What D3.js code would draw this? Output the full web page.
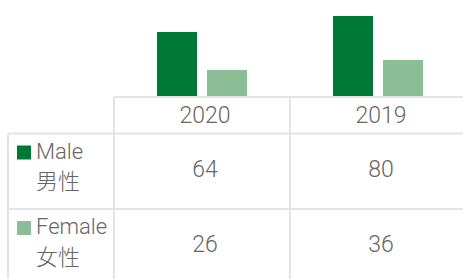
<!DOCTYPE html>
<html lang="en">

<head>
    <meta charset="UTF-8">
    <title>Male / Female</title>
    <script src="https://d3js.org/d3.v7.min.js"></script>
    <style>
        body { margin: 0; background: #fff; }
        text { font-family: Roboto, "Noto Sans CJK SC", sans-serif; font-weight: 300; fill: #666; }
    </style>
</head>

<body>
    <script>
        var years = ["2020", "2019"]
        var seriesNames = ["Male", "Female"]
        var seriesCn = ["男性", "女性"]
        var male = [64, 80]
        var female = [26, 36]
        var colors = ["#007836", "#8bbd97"]

        var width = 463
        var height = 279
        var values = [male, female]

        let svg = d3.select("body").append("svg")
            .attr("width", width)
            .attr("height", height)

        // columns of the table / bar groups
        let xScale = d3.scaleBand()
            .domain(years)
            .range([114, 466])

        let xInner = d3.scaleBand()
            .domain(seriesNames)
            .range([-45, 45])
            .paddingInner(0.2)

        let yScale = d3.scaleLinear()
            .domain([0, 80])
            .range([96, 16])

        // rows of the table
        let rowScale = d3.scaleBand()
            .domain(seriesNames)
            .range([133.5, 284.5])

        // bars
        seriesNames.forEach((s, i) => {
            svg.append("g").selectAll("rect")
                .data(years)
                .enter()
                .append("rect")
                .attr("x", (d) => xScale(d) + xScale.bandwidth() / 2 + xInner(s))
                .attr("y", (d, j) => yScale(values[i][j]))
                .attr("width", xInner.bandwidth())
                .attr("height", (d, j) => yScale(0) - yScale(values[i][j]))
                .style("fill", colors[i])
        })

        // grid lines
        let grid = svg.append("g")
            .style("stroke", "#e4e4e4")
            .style("stroke-width", 2)
        grid.append("line")
            .attr("x1", xScale.range()[0]).attr("x2", width)
            .attr("y1", 97).attr("y2", 97)
        grid.selectAll(".hrow")
            .data(seriesNames)
            .enter()
            .append("line")
            .attr("x1", 8).attr("x2", width)
            .attr("y1", (d) => rowScale(d)).attr("y2", (d) => rowScale(d))
        grid.append("line")
            .attr("x1", 8).attr("x2", 8)
            .attr("y1", rowScale.range()[0]).attr("y2", height)
        grid.selectAll(".vcol")
            .data(years)
            .enter()
            .append("line")
            .attr("x1", (d) => xScale(d)).attr("x2", (d) => xScale(d))
            .attr("y1", 97).attr("y2", height)

        // header
        svg.append("g").selectAll("text")
            .data(years)
            .enter()
            .append("text")
            .attr("x", (d) => xScale(d) + xScale.bandwidth() / 2 + 3)
            .attr("y", 122.5)
            .attr("text-anchor", "middle")
            .style("font-size", "23px")
            .text((d) => d)

        // rows
        seriesNames.forEach((s, i) => {
            let top = rowScale(s)
            let row = svg.append("g")
            row.append("rect")
                .attr("x", 17).attr("y", top + 12)
                .attr("width", 14).attr("height", 14)
                .style("fill", colors[i])
            row.append("text")
                .attr("x", 36).attr("y", top + 25)
                .style("font-size", "22px")
                .text(s)
            row.append("text")
                .attr("x", 36).attr("y", top + 55.5)
                .style("font-size", "22px")
                .text(seriesCn[i])
            row.selectAll(".val")
                .data(years)
                .enter()
                .append("text")
                .attr("x", (d) => xScale(d) + xScale.bandwidth() / 2 + 3)
                .attr("y", top + 43)
                .attr("text-anchor", "middle")
                .style("font-size", "23px")
                .text((d, j) => values[i][j])
        })
    </script>

</body>

</html>
